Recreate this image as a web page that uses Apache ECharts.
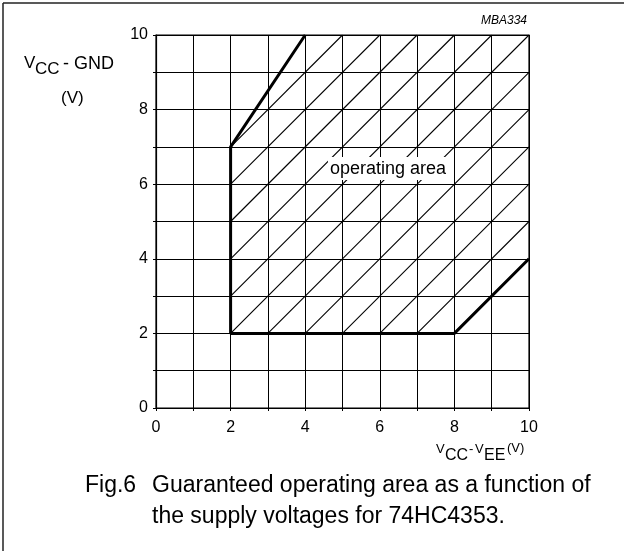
<!DOCTYPE html>
<html><head><meta charset="utf-8">
<script src="https://cdn.jsdelivr.net/npm/echarts@6/dist/echarts.min.js"></script>
<style>html,body{margin:0;padding:0;background:#fff}#c{width:624px;height:551px}</style>
</head><body><div id="c"></div>
<script>
// Axis ranges / ticks
const xTicks = [0, 2, 4, 6, 8, 10];
const yTicks = [0, 2, 4, 6, 8, 10];
// Boundary of the guaranteed operating area (Vcc-Vee, Vcc-GND)
const boundaryX = [4, 2, 2, 8, 10];
const boundaryY = [10, 7, 2, 2, 4];
// Hatch lines (start / end points inside the area)
const hatchStartX = [2, 2, 2, 2, 2, 2, 3, 4, 5, 6, 7];
const hatchStartY = [7, 6, 5, 4, 3, 2, 2, 2, 2, 2, 2];
const hatchEndX   = [5, 6, 7, 8, 9, 10, 10, 10, 10, 10, 10];
const hatchEndY   = [10, 10, 10, 10, 10, 10, 9, 8, 7, 6, 5];
// Label
const areaLabel = 'operating area';
const areaLabelPos = [6.22, 6.42];

const FONT = '"Liberation Sans", Arial, Helvetica, sans-serif';
const chart = echarts.init(document.getElementById('c'), null, {renderer: 'canvas'});

const boundaryData = boundaryX.map((x, i) => [x, boundaryY[i]]);
const hatchData = hatchStartX.map((x, i) => ({coords: [[x, hatchStartY[i]], [hatchEndX[i], hatchEndY[i]]]}));

chart.setOption({
  animation: false,
  backgroundColor: '#fff',
  grid: {left: 156, right: 95, top: 35, bottom: 143, show: true, borderColor: '#000', borderWidth: 1.2, backgroundColor: 'transparent'},
  xAxis: {
    type: 'value', min: 0, max: 10, interval: 1,
    axisLine: {show: true, lineStyle: {color: '#000', width: 1.2}},
    axisTick: {show: true, length: 3, lineStyle: {color: '#000'}},
    axisLabel: {color: '#000', fontSize: 16, fontFamily: FONT, margin: 12,
      formatter: v => xTicks.indexOf(v) >= 0 ? String(v) : ''},
    splitLine: {show: true, lineStyle: {color: '#000', width: 1}}
  },
  yAxis: {
    type: 'value', min: 0, max: 10, interval: 1,
    axisLine: {show: true, lineStyle: {color: '#000', width: 1.2}},
    axisTick: {show: true, length: 3, lineStyle: {color: '#000'}},
    axisLabel: {color: '#000', fontSize: 16, fontFamily: FONT, margin: 8,
      formatter: v => yTicks.indexOf(v) >= 0 ? String(v) : ''},
    splitLine: {show: true, lineStyle: {color: '#000', width: 1}}
  },
  series: [
    {
      type: 'lines', coordinateSystem: 'cartesian2d', polyline: false,
      data: hatchData, silent: true, z: 2,
      lineStyle: {color: '#000', width: 1.1, opacity: 1}
    },
    {
      type: 'line', data: boundaryData, showSymbol: false, symbol: 'none', z: 3,
      lineStyle: {color: '#000', width: 3}
    },
    {
      type: 'scatter', data: [areaLabelPos], symbolSize: 1, z: 5, silent: true,
      itemStyle: {color: 'rgba(0,0,0,0)', opacity: 1},
      label: {show: true, position: 'inside', formatter: areaLabel, color: '#000', opacity: 1,
        fontSize: 18, fontFamily: FONT, backgroundColor: '#fff', padding: [3, 2, 2, 2]}
    }
  ],
  graphic: [
    {type: 'line', shape: {x1: 3, y1: 3, x2: 3, y2: 551}, style: {stroke: '#222', lineWidth: 1.5}},
    {type: 'line', shape: {x1: 3, y1: 3, x2: 624, y2: 3}, style: {stroke: '#222', lineWidth: 1.5}},
    {type: 'text', right: 97, top: 15, style: {text: 'MBA334', font: 'italic 12px ' + FONT, fill: '#000'}},
    // y-axis name: V_CC - GND (V)
    {type: 'text', left: 24, top: 55, style: {text: 'V', font: '17px ' + FONT, fill: '#000'}},
    {type: 'text', left: 35, top: 61, style: {text: 'CC', font: '17px ' + FONT, fill: '#000'}},
    {type: 'text', left: 63, top: 55, style: {text: '- GND', font: '18px ' + FONT, fill: '#000'}},
    {type: 'text', left: 61, top: 90, style: {text: '(V)', font: '17px ' + FONT, fill: '#000'}},
    // x-axis name: V_CC - V_EE (V)
    {type: 'text', left: 436, top: 443, style: {text: 'V', font: '13px ' + FONT, fill: '#000'}},
    {type: 'text', left: 445, top: 448, style: {text: 'CC', font: '16px ' + FONT, fill: '#000'}},
    {type: 'text', left: 469, top: 443, style: {text: '-', font: '13px ' + FONT, fill: '#000'}},
    {type: 'text', left: 475, top: 443, style: {text: 'V', font: '13px ' + FONT, fill: '#000'}},
    {type: 'text', left: 484, top: 448, style: {text: 'EE', font: '16px ' + FONT, fill: '#000'}},
    {type: 'text', left: 507, top: 442, style: {text: '(V)', font: '13px ' + FONT, fill: '#000'}},
    // caption
    {type: 'text', left: 85, top: 474, style: {text: 'Fig.6', font: '23px ' + FONT, fill: '#000'}},
    {type: 'text', left: 152, top: 474, style: {text: 'Guaranteed operating area as a function of', font: '23px ' + FONT, fill: '#000'}},
    {type: 'text', left: 152, top: 505, style: {text: 'the supply voltages for 74HC4353.', font: '23px ' + FONT, fill: '#000'}}
  ]
});
</script></body></html>
